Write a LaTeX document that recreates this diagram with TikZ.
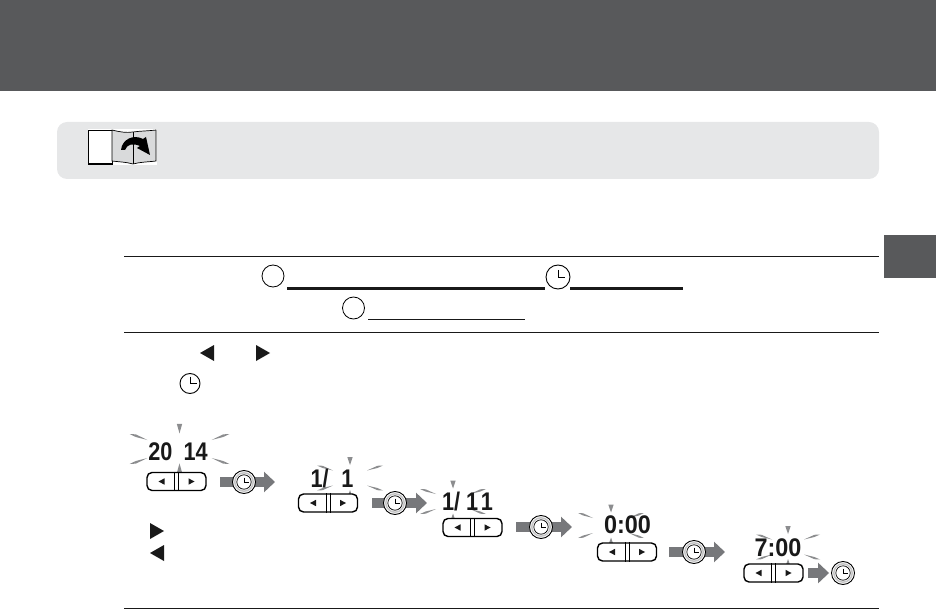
\documentclass[tikz,border=0pt]{standalone}
\usepackage{fontspec}
\setmainfont{Liberation Sans}
\usetikzlibrary{positioning, arrows.meta}
\definecolor{headgray}{HTML}{58595B}
\definecolor{panelgray}{HTML}{E6E7E8}
\definecolor{pagegray}{HTML}{D9DADB}
\definecolor{flashgray}{HTML}{8C8D8F}
\definecolor{flowgray}{HTML}{77787B}
% One burst round a blinking figure: centre, inner and outer reach, height factor
\newcommand{\flashat}[5]{
    \begin{scope}[shift={(#1,#2)}]
        \foreach \sx in {-1,1} \foreach \sy in {-1,1}
            \fill[flashgray] (\sx*#3,\sy*7.5*#5) -- (\sx*#3*0.35+\sx*#4*0.65,\sy*12.2*#5) -- (\sx*#4,\sy*12.5*#5) -- (\sx*#3*0.35+\sx*#4*0.65,\sy*10*#5) -- cycle;
        \fill[flashgray] (0,-13*#5) -- (-2.7,-21*#5) -- (2.7,-21*#5) -- cycle;
        \fill[flashgray] (0,12*#5) -- (-2.7,20*#5) -- (2.7,20*#5) -- cycle;
    \end{scope}
}
\begin{document}
\begin{tikzpicture}[
        x=1pt, y=-1pt,
        >=stealth,
        % Horizontal rules
        rulethin/.style={line width=1pt, black!90},
        % Blank underlines and marker circles in the text
        gapthick/.style={line width=3.2pt, black!90},
        gapthin/.style={line width=1pt, black!90},
        mark circle/.style={circle, draw, line width=0.8pt, minimum size=22pt, inner sep=0pt},
        % Small clock glyph in the text
        clockface/.style={circle, draw, line width=0.9pt, inner sep=0pt, fill=white,
            path picture={\draw[line width=0.9pt] ([yshift=7pt]path picture bounding box.center) -- (path picture bounding box.center) -- ++(7pt,0);}},
        % Clock key with its ring
        clockkey/.style={circle, draw, line width=0.9pt, minimum size=23pt, inner sep=0pt, fill=white,
            path picture={
                \draw[line width=1.5pt, flashgray!50] (path picture bounding box.center) circle (9.2pt);
                \draw[line width=0.7pt] (path picture bounding box.center) circle (7.2pt);
                \draw[line width=0.6pt] ([yshift=4.5pt]path picture bounding box.center) -- (path picture bounding box.center) -- ++(4.5pt,0);}},
        % Two-way key
        padkey/.style={draw, rounded corners=5pt, line width=1.4pt, minimum width=59pt, minimum height=18pt, inner sep=0pt, fill=white},
        keymark/.style={fill=black!90},
        % Big gray arrows
        flowarrow/.style={draw=flowgray, line width=10pt, -{Triangle[length=11pt,width=20pt]}},
        % Blinking figures
        figure/.style={font=\bfseries\fontsize{25.5pt}{25.5pt}\selectfont, xscale=0.85, inner sep=0pt, text=black!90}
    ]

    \useasboundingbox (0,0) rectangle (936,609);

    % Header, side tab and note panel
    \fill[headgray] (0,0) rectangle (936,91);
    \fill[headgray] (884,235) rectangle (936,278);
    \fill[panelgray, rounded corners=10pt] (57,122) rectangle (879,179);

    % Page-turn icon
    \fill[white] (88,129) rectangle (157,165);
    \draw[line width=0.7pt, fill=white] (88,130) rectangle (112,164);
    \draw[line width=1.5pt] (88,163.3) -- (112,163.3);
    \draw[line width=0.7pt, fill=pagegray] (112,130) .. controls (120,132) and (126,133) .. (133,132)
        .. controls (140,131) and (148,131) .. (156,130) -- (156,161)
        .. controls (148,162) and (140,162) .. (133,164)
        .. controls (126,162) and (120,162) .. (112,161) -- cycle;
    \draw[line width=0.8pt] (133,132) -- (133,164);
    \fill[black] (121,150) .. controls (122,139) and (134,134) .. (143,139) -- (146,137) -- (150,155)
        -- (137,148) -- (140,146) .. controls (133,143) and (127,144) .. (125,150) -- cycle;

    % Rules
    \coordinate (ruleA) at (124,257);
    \coordinate (ruleB) at (124,332);
    \coordinate (ruleC) at (124,608);
    \foreach \r in {ruleA,ruleB,ruleC}
        \draw[rulethin] (\r) -- ++(755,0);

    % Text markers and blanks
    \coordinate (gapA) at (287,288.3);
    \coordinate (gapB) at (545,288.3);
    \coordinate (gapC) at (570,288.3);
    \coordinate (gapD) at (683,288.3);
    \coordinate (gapE) at (368,319.5);
    \coordinate (gapF) at (525,319.5);
    \draw[gapthick] (gapA) -- (gapB);
    \draw[gapthick] (gapC) -- (gapD);
    \draw[gapthin] (gapE) -- (gapF);
    \node[mark circle] (markA) at (273,276) {};
    \node[mark circle] (markB) at (353.5,308) {};
    \node[clockface, minimum size=24pt] (markC) at (558,277) {};

    % Triangles and clock in the running text
    \fill[keymark] (200,353) -- (214,345) -- (214,361) -- cycle;
    \fill[keymark] (270,353) -- (256,345) -- (256,361) -- cycle;
    \node[clockface, minimum size=20pt] (markD) at (190,383.5) {};
    \fill[keymark] (164,531) -- (150,523) -- (150,539) -- cycle;
    \fill[keymark] (150,553) -- (164,545) -- (164,561) -- cycle;

    % Blinking bursts
    \flashat{179.5}{449}{32}{50}{1.2}
    \flashat{350}{478}{17}{33}{1}
    \flashat{453}{501.5}{17}{33}{1}
    \flashat{611}{525.5}{18}{33}{1}
    \flashat{788}{547}{16}{32}{1}

    % Figures
    \node[figure] (figA) at (178,452) {20\ \kern6pt 14};
    \node[figure] (figB) at (332,478.5) {1/\ \kern8pt 1};
    \node[figure] (figC) at (467.5,501.5) {1/\ 1\kern3pt 1};
    \node[figure, xscale=1.08] (figD) at (627.5,525) {0:00};
    \node[figure, xscale=1.08] (figE) at (778,548) {7:00};

    % Two-way keys
    \foreach \n/\px/\py in {padA/176.5/481.5, padB/328/503, padC/472.5/527.5, padD/627/552, padE/773.5/573}{
        \node[padkey] (\n) at (\px,\py) {};
        \draw[line width=0.7pt] ([xshift=-2pt]\n.north) -- ([xshift=-2pt]\n.south);
        \draw[line width=0.7pt] ([xshift=2pt]\n.north) -- ([xshift=2pt]\n.south);
        \fill[keymark] ([xshift=-18pt]\n.center) -- ++(6pt,3.2pt) -- ++(0,-6.4pt) -- cycle;
        \fill[keymark] ([xshift=18pt]\n.center) -- ++(-6pt,3.2pt) -- ++(0,-6.4pt) -- cycle;
    }

    % Clock keys on the gray arrows
    \foreach \n/\fx/\tx/\cx/\py in {A/220/275/244/482, B/372/427/395/503, C/516/572/541/527, D/669/725/694/552}{
        \coordinate (flow\n s) at (\fx,\py);
        \coordinate (flow\n e) at (\tx,\py);
        \draw[flowarrow] (flow\n s) -- (flow\n e);
        \node[clockkey] (key\n) at (\cx,\py) {};
    }
    \coordinate (flowEs) at (808,573);
    \node[clockkey] (keyE) at (843,573) {};
    \draw[flowarrow, shorten >=2pt] (flowEs) -- (keyE.west);

\end{tikzpicture}
\end{document}
